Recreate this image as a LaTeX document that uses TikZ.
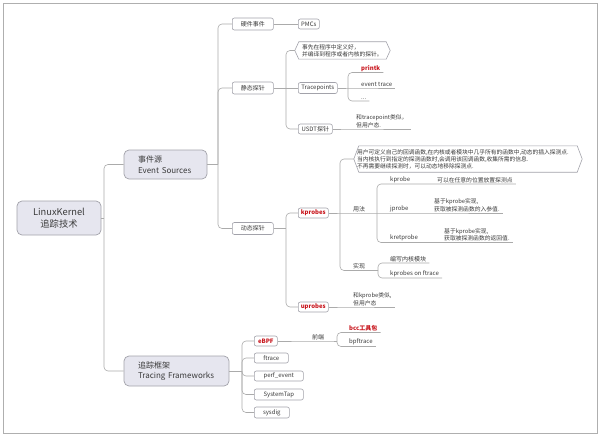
\documentclass[tikz,border=0pt]{standalone}
\usepackage{fontspec}
\setmainfont{Noto Sans CJK SC}
\usetikzlibrary{calc,backgrounds}
\definecolor{txt}{HTML}{3A3A3A}
\definecolor{lnc}{HTML}{ABABAB}
\definecolor{bdr}{HTML}{A2A2AA}
\definecolor{fillc}{HTML}{E6E6EF}
\definecolor{redc}{HTML}{C8161D}
\definecolor{frm}{HTML}{AFAFAF}
\begin{document}
\begin{tikzpicture}[x=1pt,y=-1pt,
  conn/.style={draw=lnc, line width=0.6pt, rounded corners=4pt},
  mainbox/.style={draw=bdr, fill=fillc, line width=0.7pt, rounded corners=5pt, inner sep=0pt, text=txt, font=\fontsize{8}{10.5}\selectfont, align=left},
  smallbox/.style={draw=bdr, fill=white, line width=0.6pt, rounded corners=2pt, inner sep=0pt, text=txt, font=\fontsize{6}{7.5}\selectfont, anchor=west},
  ul/.style={inner xsep=3pt, inner ysep=1pt, text=txt, font=\fontsize{6}{7.5}\selectfont, anchor=south west, align=left},
  desc/.style={ul, font=\fontsize{5.8}{7.5}\selectfont},
  hl/.style={text=redc, font=\fontsize{6}{7.5}\selectfont\bfseries},
  callout/.style={inner sep=0pt, text=txt, font=\fontsize{5.75}{7}\selectfont, align=left},
  hexline/.style={draw=bdr, line width=0.6pt, fill=white},
]
\useasboundingbox (0,0) rectangle (600,436);
\draw[frm, line width=0.8pt] (3,3) rectangle (597,433);

% main nodes
\node[mainbox, minimum width=84pt, minimum height=34pt, align=center, font=\fontsize{9.3}{12}\selectfont] (root) at (59,218) {LinuxKernel\\追踪技术};
\node[mainbox, minimum width=83pt, minimum height=29pt, text width=55pt] (es) at (165.5,164.5) {事件源\\Event Sources};
\node[mainbox, minimum width=105pt, minimum height=30pt, text width=77pt] (tf) at (176.5,371) {追踪框架\\Tracing Frameworks};

% level 2
\node[smallbox, minimum width=41pt, minimum height=12pt] (hw) at (232,24) {硬件事件};
\node[smallbox, minimum width=41pt, minimum height=12pt] (st) at (232,88) {静态探针};
\node[smallbox, minimum width=41pt, minimum height=12pt] (dy) at (232,228.5) {动态探针};

\node[smallbox, minimum width=21pt, minimum height=10pt] (pmc) at (298,24) {PMCs};
\node[smallbox, minimum width=39pt, minimum height=11pt] (tp) at (298,88) {Tracepoints};
\node[smallbox, minimum width=34pt, minimum height=10pt] (usdt) at (298,129) {USDT探针};
\node[smallbox, hl, minimum width=30pt, minimum height=10pt] (kp) at (298,213) {kprobes};
\node[smallbox, hl, minimum width=30pt, minimum height=10pt] (up) at (298,307) {uprobes};

\node[smallbox, hl, minimum width=23pt, minimum height=10pt] (ebpf) at (254,341) {eBPF};
\node[smallbox, minimum width=34pt, minimum height=10pt] (ftr) at (254,358) {ftrace};
\node[smallbox, minimum width=49pt, minimum height=10pt] (perf) at (254,376) {perf\_event};
\node[smallbox, minimum width=49pt, minimum height=11pt] (stap) at (254,394.5) {SystemTap};
\node[smallbox, minimum width=35pt, minimum height=11pt] (sysd) at (254,412.5) {sysdig};

% callouts
\node[callout, minimum width=95pt, minimum height=17pt, text width=81pt] (cal1) at (342.5,50.5) {事先在程序中定义好，\\并编译到程序或者内核的探针。};
\node[callout, minimum width=228pt, minimum height=26pt, text width=222pt] (cal2) at (468,159) {用户可定义自己的回调函数,在内核或者模块中几乎所有的函数中,动态的插入探测点.\\当内核执行到指定的探测函数时,会调用该回调函数,收集所需的信息.\\不再需要继续探测时，可以动态地移除探测点.};
\begin{pgfonlayer}{background}
\draw[hexline] (cal1.west) -- ([xshift=4pt]cal1.north west) -- ([xshift=-4pt]cal1.north east) -- (cal1.east) -- ([xshift=-4pt]cal1.south east) -- ([xshift=4pt]cal1.south west) -- cycle;
\draw[hexline] (cal2.west) -- ([xshift=5pt]cal2.north west) -- ([xshift=-5pt]cal2.north east) -- (cal2.east) -- ([xshift=-5pt]cal2.south east) -- ([xshift=5pt]cal2.south west) -- cycle;
\end{pgfonlayer}

% underlined items
\node[ul, hl] (pk) at (358,72.5) {printk};
\node[ul] (et) at (358,88) {event trace};
\node[ul] (dots) at (358,101) {...};
\node[desc] (usdtd) at (353,129) {和tracepoint类似，\\但用户态.};

\node[ul] (yf) at (350,213) {用法};
\node[ul] (kpr) at (387,184) {kprobe};
\node[desc] (kprd) at (434,184) {可以在任意的位置放置探测点};
\node[ul] (jpr) at (387,213) {jprobe};
\node[desc] (jprd) at (431,213) {基于kprobe实现,\\获取被探测函数的入参值.};
\node[ul] (kret) at (387,242.5) {kretprobe};
\node[desc] (kretd) at (441,242.5) {基于kprobe实现,\\获取被探测函数的返回值.};

\node[ul] (sx) at (350,270.5) {实现};
\node[ul] (bx) at (387,263) {编写内核模块};
\node[ul] (kof) at (387,278) {kprobes on ftrace};

\node[desc] (upd) at (350,307) {和kprobe类似,\\但用户态};

\node[ul] (qd) at (309,341) {前端};
\node[ul, hl] (bcc) at (346,332.5) {bcc工具包};
\node[ul] (bpf) at (346,346.5) {bpftrace};

% trunk coordinates
\coordinate (t0) at (104,218);
\coordinate (t1) at (218,164.5);
\coordinate (t2) at (286,88);
\coordinate (t3) at (348,88);
\coordinate (t4) at (286,228.5);
\coordinate (t5) at (340,213);
\coordinate (t6) at (377,213);
\coordinate (t8) at (378,270.5);
\coordinate (t7) at (242,371);
\coordinate (t9) at (337,341);

% connectors
\draw[conn] (root.east) -- (t0);
\draw[conn] (t0) |- (es.west);
\draw[conn] (t0) |- (tf.west);

\draw[conn] (es.east) -- (t1);
\draw[conn] (t1) |- (hw.west);
\draw[conn] (t1) |- (st.west);
\draw[conn] (t1) |- (dy.west);

\draw[conn] (hw.east) -- (pmc.west);

\draw[conn] (st.east) -- (tp.west);
\draw[conn] (t2) |- (cal1.west);
\draw[conn] (t2) |- (usdt.west);

\draw[conn] (tp.east) -- (et.south west) -- (et.south east);
\draw[conn] (t3) |- (pk.south west) -- (pk.south east);
\draw[conn] (t3) |- (dots.south west) -- (dots.south east);

\draw[conn] (usdt.east) -- (usdtd.south west) -- (usdtd.south east);

\draw[conn] (dy.east) -- (t4);
\draw[conn] (t4) |- (kp.west);
\draw[conn] (t4) |- (up.west);

\draw[conn] (kp.east) -- (yf.south west) -- (yf.south east) -- (jpr.south west) -- (jpr.south east) -- (jprd.south west) -- (jprd.south east);
\draw[conn] (t5) |- (cal2.west);
\draw[conn] (t5) |- (sx.south west) -- (sx.south east) -- (t8);

\draw[conn] (t6) |- (kpr.south west) -- (kpr.south east) -- (kprd.south west) -- (kprd.south east);
\draw[conn] (t6) |- (kret.south west) -- (kret.south east) -- (kretd.south west) -- (kretd.south east);

\draw[conn] (t8) |- (bx.south west) -- (bx.south east);
\draw[conn] (t8) |- (kof.south west) -- (kof.south east);

\draw[conn] (up.east) -- (upd.south west) -- (upd.south east);

\draw[conn] (tf.east) -- (t7);
\draw[conn] (t7) |- (ebpf.west);
\draw[conn] (t7) |- (ftr.west);
\draw[conn] (t7) |- (perf.west);
\draw[conn] (t7) |- (stap.west);
\draw[conn] (t7) |- (sysd.west);

\draw[conn] (ebpf.east) -- (qd.south west) -- (qd.south east) -- (t9);
\draw[conn] (t9) |- (bcc.south west) -- (bcc.south east);
\draw[conn] (t9) |- (bpf.south west) -- (bpf.south east);
\end{tikzpicture}
\end{document}
